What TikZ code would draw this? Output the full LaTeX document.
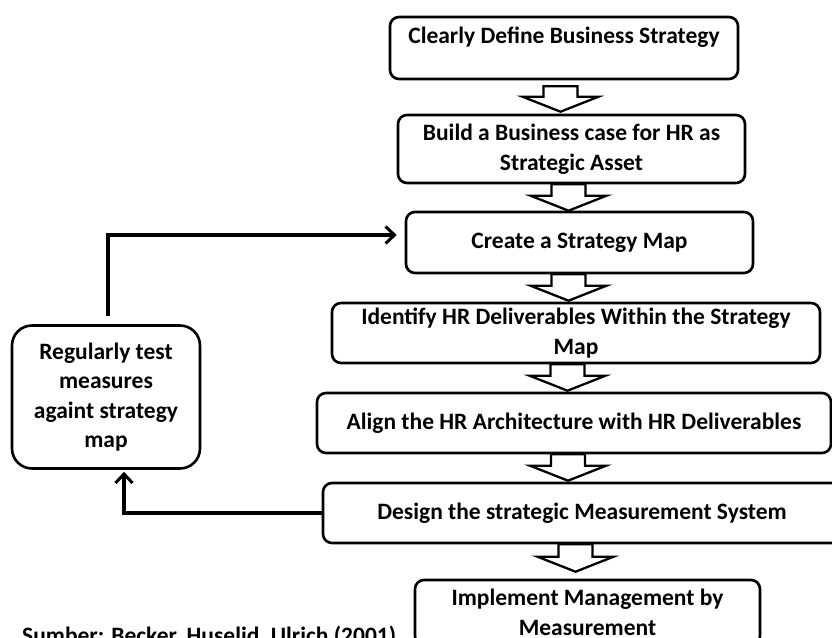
\documentclass[tikz,border=0pt]{standalone}
\usepackage{fontspec}
\setmainfont{Carlito}
\usetikzlibrary{arrows.meta,calc}

% hollow block arrow between two stacked boxes:
% #1 upper node, #2 lower node, #3 centre x, #4 gap below upper box, #5 gap above lower box
\newcommand\hollowarrow[5]{%
  \draw[hollow] let \p1=(#1.south), \p2=(#2.north) in
    (#3pt-17pt,\y1-#4pt) -- (#3pt+17pt,\y1-#4pt) -- (#3pt+17pt,\y2+#5pt+15pt)
    -- (#3pt+38pt,\y2+#5pt+15pt) -- (#3pt,\y2+#5pt) -- (#3pt-38pt,\y2+#5pt+15pt)
    -- (#3pt-17pt,\y2+#5pt+15pt) -- cycle;
}

\begin{document}
\begin{tikzpicture}[x=1pt,y=-1pt,
  box/.style={draw, line width=2.6pt, rounded corners=9pt, inner sep=0pt,
              font=\fontsize{23.5}{29.5}\selectfont\bfseries, align=center},
  txt/.style={font=\fontsize{23.5}{29.5}\selectfont\bfseries, align=center, inner sep=0pt},
  hollow/.style={draw, line width=2.3pt, line join=miter},
  fb/.style={line width=3.2pt, -{Straight Barb[length=9pt,width=17pt,line width=3pt]}}
]
\clip (0,0) rectangle (832,637);
\useasboundingbox (0,0) rectangle (832,637);

% main chain of steps
\node[box, minimum width=348, minimum height=62] (b1) at (564,48) {};
\node[txt, anchor=base] (t1) at (564,43) {Clearly Define Business Strategy};
\node[box, minimum width=347, minimum height=68] (b2) at (571.5,149)
  {Build a Business case for HR as\\Strategic Asset};
\node[box, minimum width=347, minimum height=61] (b3) at (579.5,242.5)
  {Create a Strategy Map};
\node[box, minimum width=488, minimum height=60] (b4) at (576,333)
  {Identify HR Deliverables Within the Strategy\\Map};
\node[box, minimum width=514, minimum height=60] (b5) at (574,423)
  {Align the HR Architecture with HR Deliverables};
\node[box, minimum width=518, minimum height=60] (b6) at (582,513)
  {Design the strategic Measurement System};
\node[box, minimum width=345, minimum height=65] (b7) at (587.5,612.5)
  {Implement Management by\\Measurement};

% feedback step
\node[box, rounded corners=20pt, minimum width=188, minimum height=143] (lb) at (106,397)
  {Regularly test\\measures\\againt strategy\\map};

% block arrows down the chain
\hollowarrow{b1}{b2}{560.5}{6}{2}
\hollowarrow{b2}{b3}{568.5}{0}{0}
\hollowarrow{b3}{b4}{568.5}{0}{1}
\hollowarrow{b4}{b5}{567.5}{0}{1}
\hollowarrow{b5}{b6}{568}{0}{1}
\hollowarrow{b6}{b7}{575.5}{0}{7}

% feedback loop
\draw[fb] (b6.west) -| ([xshift=18pt,yshift=-2pt]lb.south);
\draw[fb] ([xshift=2pt,yshift=8pt]lb.north) |- ([xshift=-8pt,yshift=7.5pt]b3.west);

% source note
\node[txt, anchor=base west] (src) at (22,643) {Sumber: Becker, Huselid, Ulrich (2001)};
\end{tikzpicture}
\end{document}
